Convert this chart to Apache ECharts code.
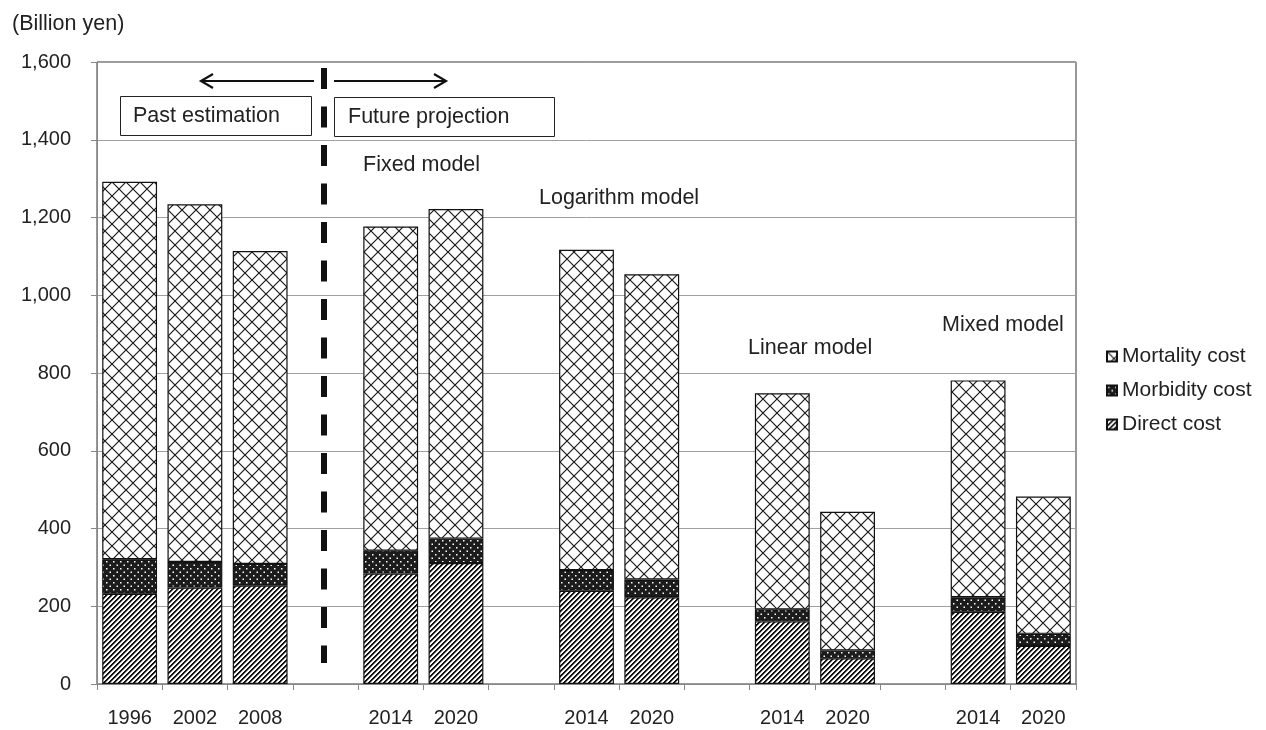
<!DOCTYPE html>
<html>
<head>
<meta charset="utf-8">
<script src="https://cdn.jsdelivr.net/npm/echarts@6/dist/echarts.min.js"></script>
<style>
  html, body { margin: 0; padding: 0; background: #fff; }
  #main { width: 1266px; height: 730px; }
</style>
</head>
<body>
<div id="main"></div>
<script>
// categories ('' = spacer between model groups)
var years = ['1996', '2002', '2008', '', '2014', '2020', '', '2014', '2020', '', '2014', '2020', '', '2014', '2020'];
// billion yen
var directCost    = [232, 248, 253, '-', 284, 311, '-', 240, 223, '-', 161, 66, '-', 186, 98];
var morbidityCost = [89, 66, 56, '-', 59, 63, '-', 53, 46, '-', 31, 20, '-', 37, 31];
var mortalityCost = [971, 920, 805, '-', 834, 848, '-', 824, 785, '-', 556, 357, '-', 558, 353];
var yTicks = [0, 200, 400, 600, 800, 1000, 1200, 1400, 1600];

var FONT = 'Liberation Sans';
var NOTE_FONT = '21.5px ' + FONT;

// fill patterns
function makePattern(w, h, draw) {
    var c = document.createElement('canvas');
    c.width = w; c.height = h;
    var ctx = c.getContext('2d');
    draw(ctx, w, h);
    return { image: c, repeat: 'repeat' };
}
// crisp "/" stripes, drawn pixel by pixel
var stripes = makePattern(5, 5, function (ctx, w, h) {
    ctx.fillStyle = '#fff'; ctx.fillRect(0, 0, w, h);
    for (var x = 0; x < w; x++) {
        for (var y = 0; y < h; y++) {
            var k = (x + y) % 5;
            if (k < 2) { ctx.fillStyle = '#111'; ctx.fillRect(x, y, 1, 1); }
            else if (k === 2) { ctx.fillStyle = '#999'; ctx.fillRect(x, y, 1, 1); }
        }
    }
});
var dots = makePattern(7, 7, function (ctx, w, h) {
    ctx.fillStyle = '#1c1c1c'; ctx.fillRect(0, 0, w, h);
    ctx.fillStyle = '#fff';
    ctx.fillRect(1, 1, 1.5, 1.5);
    ctx.fillRect(4.5, 4.5, 1.5, 1.5);
});
var diamonds = makePattern(14, 14, function (ctx, w, h) {
    ctx.fillStyle = '#fff'; ctx.fillRect(0, 0, w, h);
    ctx.strokeStyle = '#1a1a1a'; ctx.lineWidth = 1.2;
    ctx.beginPath();
    ctx.moveTo(0, 0); ctx.lineTo(w, h);
    ctx.moveTo(w, 0); ctx.lineTo(0, h);
    ctx.stroke();
});

var chart = echarts.init(document.getElementById('main'));

var barStyle = function (fill) {
    return { color: fill, borderColor: '#111', borderWidth: 1.2 };
};

function note(text, x, y) {
    return { type: 'text', x: x, y: y, z: 11,
             style: { text: text, font: NOTE_FONT, fill: '#222', textVerticalAlign: 'middle' } };
}

var option = {
    backgroundColor: '#fff',
    animation: false,
    textStyle: { fontFamily: FONT },
    grid: {
        left: 97, right: 190, top: 62, bottom: 46,
        show: true, borderColor: '#333', borderWidth: 1
    },
    legend: {
        orient: 'vertical',
        left: 1106, top: 346,
        padding: 0,
        itemWidth: 10, itemHeight: 10,
        itemGap: 13,
        icon: 'rect',
        textStyle: { fontFamily: FONT, fontSize: 21, color: '#222', lineHeight: 20 },
        data: ['Mortality cost', 'Morbidity cost', 'Direct cost']
    },
    xAxis: {
        type: 'category',
        data: years,
        axisLine: { lineStyle: { color: '#888', width: 1 } },
        axisTick: { show: true, length: 6, lineStyle: { color: '#888' } },
        axisLabel: { fontFamily: FONT, fontSize: 20, color: '#222', margin: 24, interval: 0 }
    },
    yAxis: {
        type: 'value',
        min: yTicks[0], max: yTicks[yTicks.length - 1], interval: 200,
        axisLine: { show: true, lineStyle: { color: '#888', width: 1 } },
        axisTick: { show: true, length: 6, lineStyle: { color: '#888' } },
        splitLine: { lineStyle: { color: '#a0a0a0', width: 1 } },
        axisLabel: {
            fontFamily: FONT, fontSize: 20, color: '#222', margin: 26,
            formatter: function (v) { return v.toLocaleString('en-US'); }
        }
    },
    series: [
        { name: 'Direct cost', type: 'bar', stack: 'cost', data: directCost,
          barCategoryGap: '16%', itemStyle: barStyle(stripes) },
        { name: 'Morbidity cost', type: 'bar', stack: 'cost', data: morbidityCost,
          itemStyle: barStyle(dots) },
        { name: 'Mortality cost', type: 'bar', stack: 'cost', data: mortalityCost,
          itemStyle: barStyle(diamonds) }
    ],
    graphic: [
        { type: 'text', x: 12, y: 24,
          style: { text: '(Billion yen)', font: '21.5px ' + FONT, fill: '#222', textVerticalAlign: 'middle' } },
        // past / future divider
        { type: 'line', shape: { x1: 324, y1: 68, x2: 324, y2: 663 },
          style: { stroke: '#111', lineWidth: 6, lineDash: [21, 17.5] }, z: 10 },
        // arrows
        { type: 'line', shape: { x1: 314, y1: 81, x2: 201, y2: 81 },
          style: { stroke: '#111', lineWidth: 2 }, z: 10 },
        { type: 'polyline', shape: { points: [[213, 74], [201, 81], [213, 88]] },
          style: { stroke: '#111', lineWidth: 2.2, fill: null }, z: 10 },
        { type: 'line', shape: { x1: 334, y1: 81, x2: 446, y2: 81 },
          style: { stroke: '#111', lineWidth: 2 }, z: 10 },
        { type: 'polyline', shape: { points: [[434, 74], [446, 81], [434, 88]] },
          style: { stroke: '#111', lineWidth: 2.2, fill: null }, z: 10 },
        // boxes
        { type: 'rect', shape: { x: 120.5, y: 96.5, width: 191, height: 39 },
          style: { fill: '#fff', stroke: '#222', lineWidth: 1 }, z: 10 },
        note('Past estimation', 133, 116),
        { type: 'rect', shape: { x: 334.5, y: 97.5, width: 220, height: 39 },
          style: { fill: '#fff', stroke: '#222', lineWidth: 1 }, z: 10 },
        note('Future projection', 348, 117),
        // model labels
        note('Fixed model', 363, 165),
        note('Logarithm model', 539, 198),
        note('Linear model', 748, 348),
        note('Mixed model', 942, 325)
    ]
};

chart.setOption(option);
</script>
</body>
</html>
